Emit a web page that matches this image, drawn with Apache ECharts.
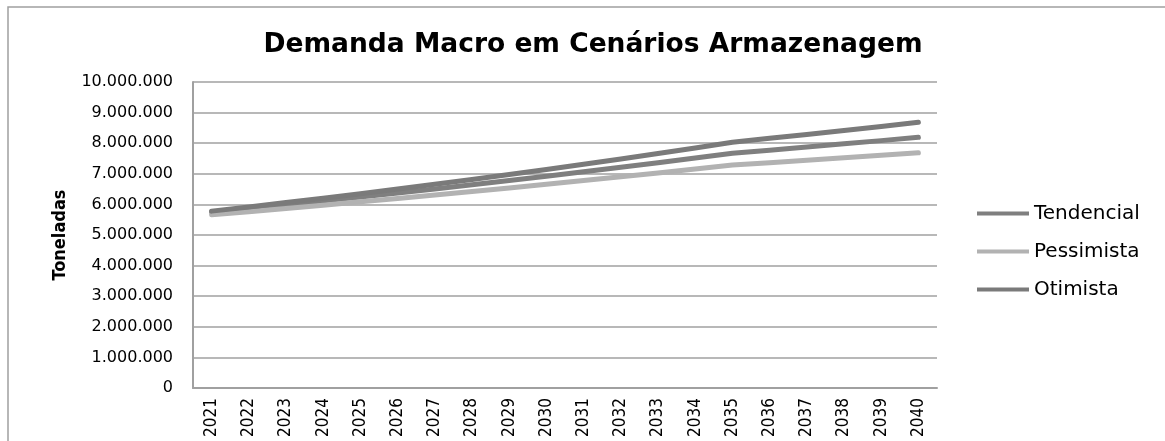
<!DOCTYPE html>
<html>
<head>
<meta charset="utf-8">
<script src="https://cdn.jsdelivr.net/npm/echarts@6/dist/echarts.min.js"></script>
<style>
  html, body { margin: 0; padding: 0; background: #fff; }
  #chart { width: 1165px; height: 441px; }
</style>
</head>
<body>
<div id="chart"></div>
<script>
  // dados (toneladas)
  var anos = ["2021", "2022", "2023", "2024", "2025", "2026", "2027", "2028", "2029", "2030",
    "2031", "2032", "2033", "2034", "2035", "2036", "2037", "2038", "2039", "2040"];

  var tendencial = [5750000, 5870000, 5992000, 6116000, 6244000, 6374000, 6506000, 6642000, 6780000, 6921000,
    7065000, 7212000, 7362000, 7515000, 7671000, 7772000, 7875000, 7979000, 8084000, 8191000];

  var pessimista = [5660000, 5763000, 5868000, 5975000, 6084000, 6195000, 6307000, 6422000, 6539000, 6658000,
    6779000, 6903000, 7028000, 7156000, 7287000, 7365000, 7444000, 7523000, 7604000, 7685000];

  var otimista = [5780000, 5918000, 6059000, 6203000, 6350000, 6501000, 6656000, 6814000, 6976000, 7142000,
    7312000, 7486000, 7664000, 7846000, 8033000, 8159000, 8287000, 8417000, 8549000, 8683000];

  var yMin = 0;
  var yMax = 10000000;
  var yStep = 1000000;

  function fmtMilhar(v) {
    return String(v).replace(/\B(?=(\d{3})+(?!\d))/g, ".");
  }

  function linha(nome, dados, cor) {
    return {
      name: nome,
      type: "line",
      data: dados,
      symbol: "none",
      smooth: false,
      lineStyle: { color: cor, width: 5, cap: "round", join: "round" },
      itemStyle: { color: cor },
    };
  }

  var chart = echarts.init(document.getElementById("chart"));
  chart.setOption({
    animation: false,
    backgroundColor: "#fff",
    title: {
      text: "Demanda Macro em Cenários Armazenagem",
      left: 588,
      textAlign: "center",
      top: 27,
      textStyle: { fontFamily: "DejaVu Sans", fontWeight: "bold", fontSize: 26.5, color: "#000" },
    },
    graphic: [
      {
        type: "rect",
        shape: { x: 8, y: 7, width: 1170, height: 450 },
        style: { fill: "none", stroke: "#a0a0a0", lineWidth: 1.5 },
        silent: true,
      },
    ],
    legend: {
      orient: "vertical",
      left: 972,
      top: 198,
      icon: "rect",
      itemWidth: 52,
      itemHeight: 4,
      itemGap: 17,
      data: ["Tendencial", "Pessimista", "Otimista"],
      textStyle: { fontFamily: "DejaVu Sans", fontSize: 20, color: "#000", lineHeight: 21 },
    },
    grid: { left: 193, right: 228, top: 82, bottom: 53, containLabel: false },
    xAxis: {
      type: "category",
      data: anos,
      boundaryGap: true,
      axisLine: { lineStyle: { color: "#a0a0a0", width: 2 } },
      axisTick: { show: false },
      axisLabel: {
        rotate: 90,
        margin: 10,
        color: "#000",
        fontFamily: "DejaVu Sans Condensed",
        fontSize: 17,
      },
    },
    yAxis: {
      type: "value",
      min: yMin,
      max: yMax,
      interval: yStep,
      name: "Toneladas",
      nameLocation: "middle",
      nameGap: 124,
      nameTextStyle: { fontFamily: "DejaVu Sans Condensed", fontWeight: "bold", fontSize: 18, color: "#000" },
      axisLine: { show: true, lineStyle: { color: "#a0a0a0", width: 2 } },
      axisTick: { show: false },
      axisLabel: {
        color: "#000",
        fontFamily: "DejaVu Sans",
        fontSize: 16,
        margin: 20,
        formatter: function (v) { return fmtMilhar(v); },
      },
      splitLine: { lineStyle: { color: "#a0a0a0", width: 1.5 } },
    },
    series: [
      linha("Tendencial", tendencial, "#7f7f7f"),
      linha("Pessimista", pessimista, "#b2b2b2"),
      linha("Otimista", otimista, "#7a7a7a"),
    ],
  });
</script>
</body>
</html>
